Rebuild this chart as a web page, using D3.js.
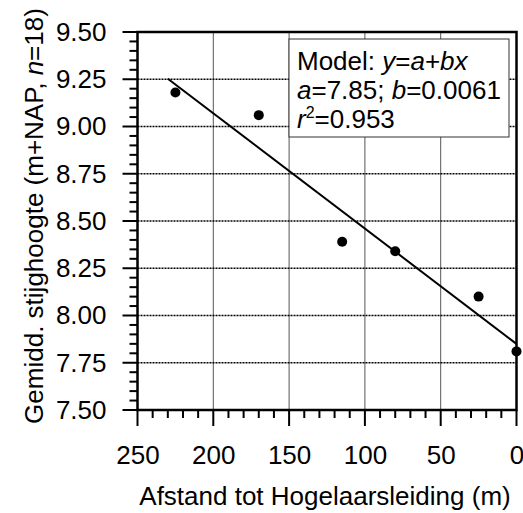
<!DOCTYPE html>
<html>
<head>
<meta charset="utf-8">
<script src="https://cdn.jsdelivr.net/npm/d3@7"></script>
<style>
  body { margin: 0; background: #fff; }
  svg text { font-family: "Liberation Sans", Arial, sans-serif; fill: #000; }
</style>
</head>
<body>
<svg id="chart" width="523" height="513"></svg>
<script>
// measured points: distance to Hogelaarsleiding (m) and mean head (m+NAP)
var afstand = [225, 170, 115, 80, 25, 0];
var stijghoogte = [9.18, 9.06, 8.39, 8.34, 8.10, 7.81];

// fitted model y = a + b*x
var modelA = 7.85, modelB = 0.0061;
var lineX = [0, 230];

var xTicks = [250, 200, 150, 100, 50, 0];
var yTicks = [7.50, 7.75, 8.00, 8.25, 8.50, 8.75, 9.00, 9.25, 9.50];

var margin = {top: 32, right: 6.5, bottom: 103, left: 137.5},
    width = 523 - margin.left - margin.right,
    height = 513 - margin.top - margin.bottom,
    fs = 26;

var x = d3.scaleLinear().domain([250, 0]).range([0, width]),
    y = d3.scaleLinear().domain([7.5, 9.5]).range([height, 0]);

var svg = d3.select("#chart")
  .append("g")
    .attr("transform", "translate(" + margin.left + "," + margin.top + ")");

// vertical grid lines
svg.selectAll(".vgrid")
    .data([200, 150, 100, 50])
  .enter().append("line")
    .attr("x1", function(d) { return x(d); })
    .attr("x2", function(d) { return x(d); })
    .attr("y1", 0)
    .attr("y2", height)
    .attr("stroke", "#555")
    .attr("stroke-width", 1);

// dotted horizontal grid lines
svg.selectAll(".hgrid")
    .data(yTicks.slice(1, -1))
  .enter().append("line")
    .attr("x1", 0)
    .attr("x2", width)
    .attr("y1", function(d) { return y(d); })
    .attr("y2", function(d) { return y(d); })
    .attr("stroke", "#000")
    .attr("stroke-width", 1.3)
    .attr("stroke-dasharray", "2,1");

// tick marks (minor every 10 m / 0.05 m, major at the labels)
var xMinor = d3.range(0, 251, 10),
    yMinor = d3.range(0, 41).map(function(i) { return 7.5 + i * 0.05; });

svg.selectAll(".xtick")
    .data(xMinor)
  .enter().append("line")
    .attr("x1", function(d) { return x(d); })
    .attr("x2", function(d) { return x(d); })
    .attr("y1", height)
    .attr("y2", function(d) { return height + (d % 50 === 0 ? 16 : 8); })
    .attr("stroke", "#000")
    .attr("stroke-width", 2);

svg.selectAll(".ytick")
    .data(yMinor)
  .enter().append("line")
    .attr("x1", 0)
    .attr("x2", function(d, i) { return i % 5 === 0 ? -15 : -8; })
    .attr("y1", function(d) { return y(d); })
    .attr("y2", function(d) { return y(d); })
    .attr("stroke", "#000")
    .attr("stroke-width", 2);

// tick labels
var xAxis = svg.append("g")
    .attr("transform", "translate(0," + height + ")")
    .call(d3.axisBottom(x).tickValues(xTicks).tickSize(16).tickPadding(20).tickFormat(d3.format("d")));
xAxis.select(".domain").remove();
xAxis.selectAll("line").remove();
xAxis.selectAll("text").attr("font-size", fs).style("font-family", "Liberation Sans, Arial, sans-serif");

var yAxis = svg.append("g")
    .call(d3.axisLeft(y).tickValues(yTicks).tickSize(15).tickPadding(16).tickFormat(d3.format(".2f")));
yAxis.select(".domain").remove();
yAxis.selectAll("line").remove();
yAxis.selectAll("text").attr("font-size", fs).style("font-family", "Liberation Sans, Arial, sans-serif");

// regression line
var model = d3.line()
    .x(function(d) { return x(d); })
    .y(function(d) { return y(modelA + modelB * d); });
svg.append("path")
    .attr("d", model(lineX))
    .attr("fill", "none")
    .attr("stroke", "#000")
    .attr("stroke-width", 2);

// points
svg.selectAll(".dot")
    .data(afstand)
  .enter().append("circle")
    .attr("cx", function(d) { return x(d); })
    .attr("cy", function(d, i) { return y(stijghoogte[i]); })
    .attr("r", 5)
    .attr("fill", "#000");

// plot frame
svg.append("rect")
    .attr("width", width)
    .attr("height", height)
    .attr("fill", "none")
    .attr("stroke", "#000")
    .attr("stroke-width", 2.5);

// model box
var box = svg.append("g").attr("transform", "translate(151.5,7)");
box.append("rect")
    .attr("width", 220)
    .attr("height", 98)
    .attr("fill", "#fff")
    .attr("stroke", "#333")
    .attr("stroke-width", 1);

var t1 = box.append("text").attr("x", 8).attr("y", 31).attr("font-size", fs);
t1.append("tspan").text("Model: ");
t1.append("tspan").attr("font-style", "italic").text("y");
t1.append("tspan").text("=");
t1.append("tspan").attr("font-style", "italic").text("a");
t1.append("tspan").text("+");
t1.append("tspan").attr("font-style", "italic").text("bx");

var t2 = box.append("text").attr("x", 8).attr("y", 60).attr("font-size", fs);
t2.append("tspan").attr("font-style", "italic").text("a");
t2.append("tspan").text("=" + modelA.toFixed(2) + "; ");
t2.append("tspan").attr("font-style", "italic").text("b");
t2.append("tspan").text("=" + modelB.toFixed(4));

var t3 = box.append("text").attr("x", 8).attr("y", 89).attr("font-size", fs);
t3.append("tspan").attr("font-style", "italic").text("r");
t3.append("tspan").attr("font-size", 16).attr("dy", -10).text("2");
t3.append("tspan").attr("dy", 10).text("=0.953");

// axis titles
svg.append("text")
    .attr("x", width / 2 - 2)
    .attr("y", height + 95)
    .attr("text-anchor", "middle")
    .attr("font-size", fs)
    .text("Afstand tot Hogelaarsleiding (m)");

var yl = svg.append("text")
    .attr("transform", "translate(" + (-margin.left + 43) + "," + (216 - margin.top) + ") rotate(-90)")
    .attr("text-anchor", "middle")
    .attr("font-size", fs);
yl.append("tspan").text("Gemidd. stijghoogte (m+NAP, ");
yl.append("tspan").attr("font-style", "italic").text("n");
yl.append("tspan").text("=18)");
</script>
</body>
</html>
